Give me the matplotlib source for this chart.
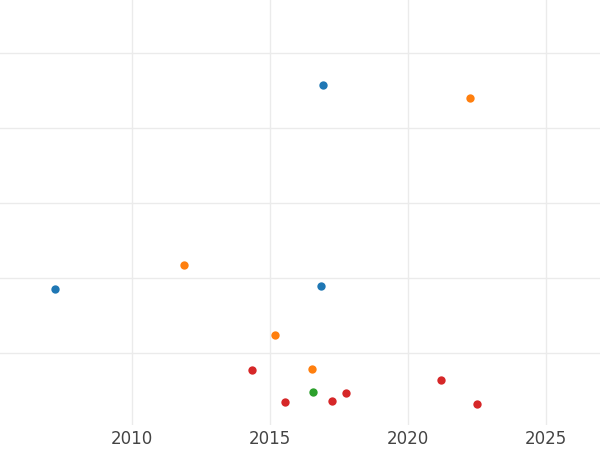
import matplotlib.pyplot as plt

# year, value pairs per series (values in arbitrary grid units)
blue_x = [2016.92, 2007.21, 2016.85]
blue_y = [4.57, 1.85, 1.89]
orange_x = [2022.25, 2011.89, 2015.18, 2016.52]
orange_y = [4.40, 2.17, 1.24, 0.79]
red_x = [2014.35, 2015.55, 2017.25, 2017.76, 2021.2, 2022.5]
red_y = [0.77, 0.35, 0.36, 0.47, 0.64, 0.32]
green_x = [2016.56]
green_y = [0.48]

fig = plt.figure(figsize=(6, 4.5), dpi=100)
ax = fig.add_axes([0, 25 / 450, 1, 425 / 450])

for xs, ys, c in [(blue_x, blue_y, "#1f77b4"), (orange_x, orange_y, "#ff7f0e"),
                  (red_x, red_y, "#d62728"), (green_x, green_y, "#2ca02c")]:
    ax.scatter(xs, ys, s=36, color=c, zorder=3, linewidths=0)

ax.set_xlim(2005.22, 2026.96)
ax.set_ylim(0.04, 428 / 75)
ax.set_xticks([2010, 2015, 2020, 2025])
ax.set_yticks([1, 2, 3, 4, 5])
ax.set_yticklabels([])
ax.grid(True, color="#ebebeb", linewidth=1)
ax.tick_params(length=0, labelsize=12, labelcolor="#444444")
for s in ax.spines.values():
    s.set_visible(False)

fig.savefig("out.png")
